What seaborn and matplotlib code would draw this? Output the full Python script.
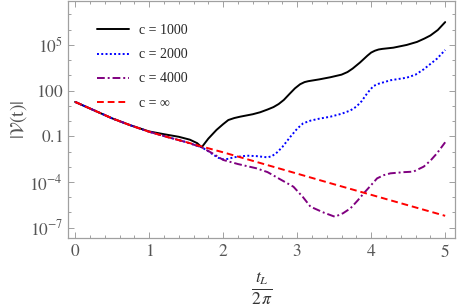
import numpy as np
import pandas as pd
import matplotlib
matplotlib.use("Agg")
import matplotlib.pyplot as plt
import matplotlib.ticker as mticker
import seaborn as sns

# --- datos (t_L / 2pi, log10 |V(t)|) ---
t_1000 = [0, 0.25, 0.5, 0.75, 1.0, 1.2, 1.4, 1.55, 1.65, 1.71, 1.8, 1.91, 2.0, 2.07, 2.15, 2.23,
          2.4, 2.5, 2.6, 2.68, 2.75, 2.82, 2.9, 2.97, 3.04, 3.1, 3.15, 3.3, 3.45, 3.6, 3.68,
          3.75, 3.85, 3.95, 4.0, 4.05, 4.1, 4.15, 4.3, 4.48, 4.62, 4.72, 4.8, 4.9, 5.0]
log_1000 = [1.26, 0.72, 0.18, -0.28, -0.68, -0.86, -1.03, -1.22, -1.45, -1.72, -1.15, -0.58,
            -0.2, 0.07, 0.2, 0.29, 0.45, 0.58, 0.76, 0.92, 1.12, 1.39, 1.8, 2.15, 2.42, 2.56,
            2.62, 2.74, 2.88, 3.05, 3.22, 3.45, 3.85, 4.3, 4.5, 4.62, 4.7, 4.74, 4.82, 5.0,
            5.2, 5.42, 5.62, 5.98, 6.50]

t_2000 = [0, 0.25, 0.5, 0.75, 1.0, 1.25, 1.5, 1.71, 1.8, 1.87, 1.94, 2.0, 2.07, 2.14, 2.32,
          2.45, 2.6, 2.66, 2.73, 2.8, 2.91, 3.0, 3.08, 3.18, 3.3, 3.45, 3.6, 3.72, 3.8, 3.87,
          3.95, 4.03, 4.1, 4.26, 4.48, 4.6, 4.71, 4.8, 4.89, 5.0]
log_2000 = [1.26, 0.72, 0.18, -0.28, -0.70, -1.05, -1.38, -1.72, -1.98, -2.22, -2.42, -2.51,
            -2.48, -2.38, -2.27, -2.3, -2.38, -2.3, -2.05, -1.7, -1.02, -0.5, -0.15, 0.03,
            0.16, 0.29, 0.48, 0.7, 0.95, 1.3, 1.85, 2.3, 2.45, 2.68, 2.85, 3.05, 3.4, 3.75,
            4.1, 4.67]

t_4000 = [0, 0.25, 0.5, 0.75, 1.0, 1.25, 1.5, 1.71, 1.85, 2.0, 2.2, 2.45, 2.6, 2.77, 2.95,
          3.08, 3.18, 3.36, 3.51, 3.62, 3.72, 3.82, 3.9, 4.0, 4.08, 4.17, 4.26, 4.45, 4.57,
          4.71, 4.8, 4.89, 5.0]
log_4000 = [1.26, 0.72, 0.18, -0.28, -0.70, -1.05, -1.38, -1.72, -2.1, -2.55, -2.82, -3.10,
            -3.35, -3.82, -4.31, -5.0, -5.62, -6.01, -6.28, -6.05, -5.73, -5.2, -4.74, -4.2,
            -3.76, -3.55, -3.43, -3.35, -3.32, -2.99, -2.6, -2.11, -1.39]

t_inf = [0, 0.25, 0.5, 0.75, 1.0, 1.25, 1.5, 1.75, 2.0, 2.5, 3.0, 3.5, 4.0, 4.5, 5.0]
log_inf = [1.26, 0.72, 0.18, -0.28, -0.70, -1.05, -1.38, -1.72, -2.05, -2.75, -3.45, -4.15,
           -4.84, -5.53, -6.22]

series = [
    ("c = 1000", t_1000, log_1000, "black", "-"),
    ("c = 2000", t_2000, log_2000, "#0000ff", (0, (1, 1.2))),
    ("c = 4000", t_4000, log_4000, "#800080", (0, (4, 1.5, 1, 1.5))),
    ("c = \u221e", t_inf, log_inf, "#ff0000", (0, (3.5, 2))),
]

sns.set_theme(style="ticks")
plt.rcParams['font.family'] = ['Liberation Serif', 'DejaVu Serif']
plt.rcParams['mathtext.fontset'] = 'stix'

gris = "#a0a0a0"
fig = plt.figure(figsize=(4.57, 3.06), dpi=100)
ax = fig.add_axes([0.149, 0.222, 0.847, 0.775])

for nombre, t, lv, color, estilo in series:
    df = pd.DataFrame({"t": t, "V": 10.0 ** np.array(lv)})
    sns.lineplot(data=df, x="t", y="V", ax=ax, color=color, linestyle=estilo,
                 linewidth=1.4, label=nombre, sort=False)

ax.set_yscale("log")
ax.set_xlim(-0.095, 5.135)
ax.set_ylim(10 ** -7.68, 10 ** 7.89)

ax.xaxis.set_major_locator(mticker.MultipleLocator(1))
ax.xaxis.set_minor_locator(mticker.MultipleLocator(0.2))
ax.xaxis.set_major_formatter(mticker.FuncFormatter(lambda v, p: f"${int(round(v))}$"))

ymaj = [1e-7, 1e-4, 1e-1, 1e2, 1e5]
ylab = [r"$10^{-7}$", r"$10^{-4}$", r"$0.1$", r"$100$", r"$10^{5}$"]
ax.yaxis.set_major_locator(mticker.FixedLocator(ymaj))
ax.yaxis.set_major_formatter(mticker.FixedFormatter(ylab))
ax.yaxis.set_minor_locator(mticker.FixedLocator([10.0 ** k for k in range(-7, 8)]))
ax.yaxis.set_minor_formatter(mticker.NullFormatter())

ax.tick_params(which="both", direction="in", top=True, right=True, color=gris,
               labelcolor="#555555", labelsize=12.5, width=0.7)
ax.tick_params(which="major", length=4.5)
ax.tick_params(which="minor", length=2.5)
ax.tick_params(axis="x", pad=4)
for s in ax.spines.values():
    s.set_color(gris)
    s.set_linewidth(0.9)

ax.set_xlabel(r"$\frac{t_L}{2\,\pi}$", fontsize=18, color="#333333", labelpad=7)
ax.set_ylabel(r"$|\mathcal{V}(\mathrm{t})|$", fontsize=14, color="#555555", labelpad=0)

ax.legend(loc="upper left", bbox_to_anchor=(0.06, 0.925), frameon=False, fontsize=10,
          handlelength=2.3, labelspacing=0.8, handletextpad=0.7, borderaxespad=0)

fig.savefig("out.png", dpi=100)
